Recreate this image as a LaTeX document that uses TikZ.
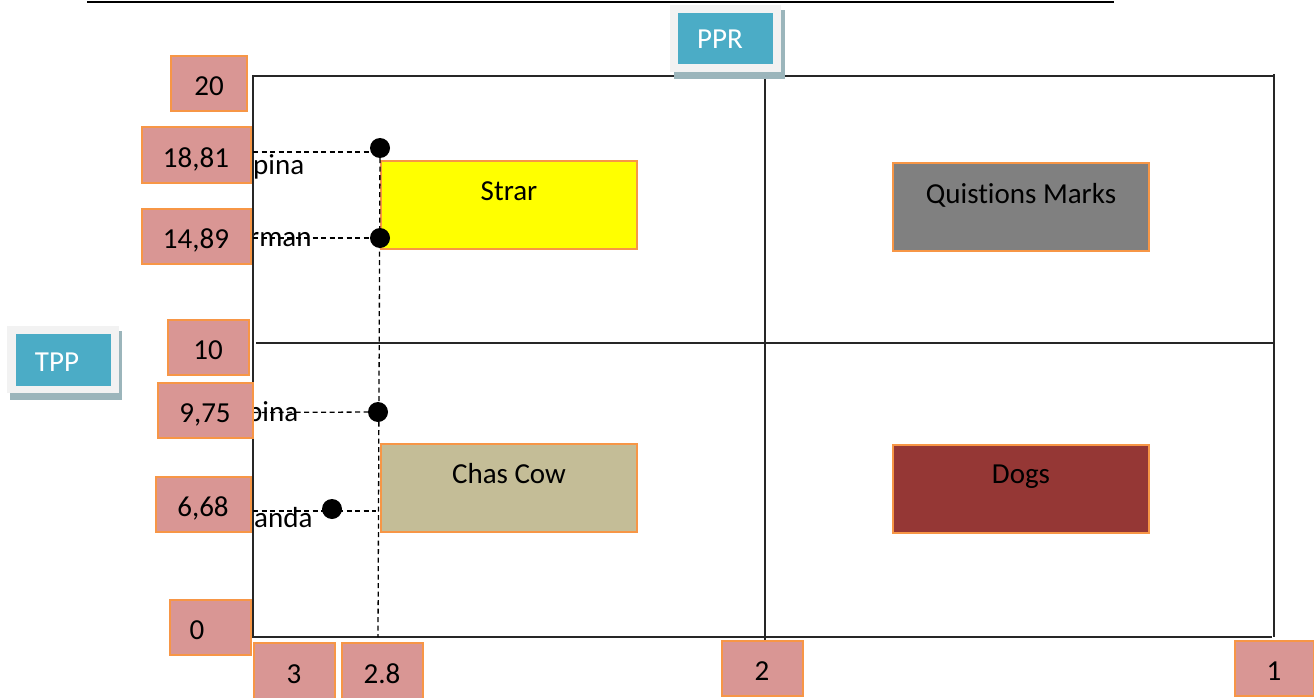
\documentclass[tikz,border=0pt]{standalone}
\usepackage{fontspec}
\setmainfont{Carlito}[Ligatures={NoCommon}]
\newcommand\bigfnt{\fontsize{29}{35}\selectfont}
\definecolor{valpink}{HTML}{D99694}
\definecolor{boxorange}{HTML}{F79646}
\definecolor{hdrblue}{HTML}{4BACC6}
\definecolor{hdrgray}{HTML}{F2F2F2}
\definecolor{hdrshadow}{HTML}{9BB5BB}
\definecolor{qmgray}{HTML}{808080}
\definecolor{cowtan}{HTML}{C4BD97}
\definecolor{dogred}{HTML}{953735}
\definecolor{staryellow}{HTML}{FFFF00}
\tikzset{
  valbox/.style={draw=boxorange, line width=2pt, fill=valpink, inner sep=0pt,
    text height=24pt, text depth=0pt, font=\bigfnt},
  quad/.style={draw=boxorange, line width=2pt, inner sep=0pt,
    minimum width=256pt, minimum height=88pt},
  quadtext/.style={anchor=base, font=\bigfnt, inner sep=0pt},
  sidetext/.style={anchor=base west, font=\bigfnt, inner sep=0pt},
  frameline/.style={line width=1.5pt, black!85},
  guide/.style={dashed, dash pattern=on 5pt off 3.5pt, line width=1.3pt},
  dotnode/.style={circle, fill=black, inner sep=0pt, minimum size=20pt},
  hdrtext/.style={font=\bigfnt, text=white, inner sep=0pt, text height=24pt, text depth=0pt}
}
\begin{document}
\begin{tikzpicture}[x=1pt,y=-1pt]
\useasboundingbox (0,0) rectangle (1314,698);

% top rule
\coordinate (tl) at (87,2.5);
\coordinate (tr) at (1114,2.5);
\draw[line width=2pt] (tl) -- (tr);

% side labels (partly hidden behind value boxes)
\node[sidetext] (s1) at (253,175) {pina};
\node[sidetext] (s2) at (249,246) {rman};
\node[sidetext] (s3) at (247,421) {pina};
\node[sidetext] (s4) at (254,527) {anda};

% frame
\coordinate (f00) at (253,637);
\coordinate (f0t) at (253,75);
\coordinate (ftl) at (253,76);
\coordinate (ftr) at (1274,76);
\coordinate (frt) at (1274,74);
\coordinate (frb) at (1274,637);
\coordinate (fbr) at (1272,637);
\coordinate (fmt) at (765,76);
\coordinate (fmb) at (765,640);
\coordinate (fml) at (256,343);
\coordinate (fmr) at (1274,343);
\draw[frameline] (f0t) -- (f00) -- (fbr);
\draw[frameline] (ftl) -- (ftr);
\draw[frameline] (frt) -- (frb);
\draw[frameline] (fmt) -- (fmb);
\draw[frameline] (fml) -- (fmr);

% quadrant boxes
\node[quad, fill=staryellow] (star) at (509,204.5) {};
\node[quadtext] (startxt) at (509,200) {Strar};
\node[quad, fill=qmgray] (qm) at (1021,207) {};
\node[quadtext] (qmtxt) at (1021,203) {Quistions Marks};
\node[quad, fill=cowtan] (cow) at (509,487.5) {};
\node[quadtext] (cowtxt) at (509,483) {Chas Cow};
\node[quad, fill=dogred] (dogs) at (1021,489) {};
\node[quadtext] (dogstxt) at (1021,483) {Dogs};

% dots and dashed guides
\node[dotnode] (d1) at (380,148) {};
\node[dotnode] (d2) at (380,238) {};
\node[dotnode] (d3) at (378,412) {};
\node[dotnode] (d4) at (332,509) {};
\coordinate (g1) at (253,152);
\coordinate (g2) at (253,238);
\coordinate (g3) at (253,412.5);
\coordinate (g4) at (253,511);
\coordinate (g4e) at (376,511);
\coordinate (vb) at (378,637);
\draw[guide] (g1) -- (g1 -| d1);
\draw[guide] (g2) -- (d2);
\draw[guide] (g3) -- (d3);
\draw[guide] (g4) -- (g4e);
\draw[guide] (d1) -- (vb);

% value boxes (vertical axis)
\node[valbox, minimum width=76pt, minimum height=55pt] (v20) at (209,84) {20};
\node[valbox, minimum width=109pt, minimum height=55pt] (v1881) at (196,155) {18,81};
\node[valbox, minimum width=109pt, minimum height=55pt] (v1489) at (196,236) {14,89};
\node[valbox, minimum width=81pt, minimum height=55pt] (v10) at (208,347) {10};
\node[valbox, minimum width=95pt, minimum height=55pt] (v975) at (205,410) {9,75};
\node[valbox, minimum width=95pt, minimum height=55pt] (v668) at (203,504) {6,68};
\node[valbox, minimum width=81pt, minimum height=55pt] (v0) at (210,627) {};
\node[valbox, draw=none, fill=none] (v0txt) at (197,627) {0};

% value boxes (horizontal axis)
\node[valbox, minimum width=81pt, minimum height=56pt] (h3) at (294,671) {3};
\node[valbox, minimum width=81pt, minimum height=56pt] (h28) at (382,671) {2.8};
\node[valbox, minimum width=81pt, minimum height=55pt] (h2) at (762,668) {2};
\node[valbox, minimum width=79pt, minimum height=55pt] (h1) at (1274,668) {1};

% header boxes
\fill[hdrshadow] (674,10) rectangle (785,79);
\fill[hdrgray] (670,5) rectangle (781,72);
\node[fill=hdrblue, minimum width=95pt, minimum height=51pt, inner sep=0pt] (ppr) at (725.5,38.5) {};
\node[hdrtext] (pprtxt) at (720,37) {PPR};

\fill[hdrshadow] (10,331) rectangle (122,400);
\fill[hdrgray] (7,326) rectangle (119,393);
\node[fill=hdrblue, minimum width=95pt, minimum height=52pt, inner sep=0pt] (tpp) at (63.5,360) {};
\node[hdrtext] (tpptxt) at (57,359) {TPP};
\end{tikzpicture}
\end{document}
